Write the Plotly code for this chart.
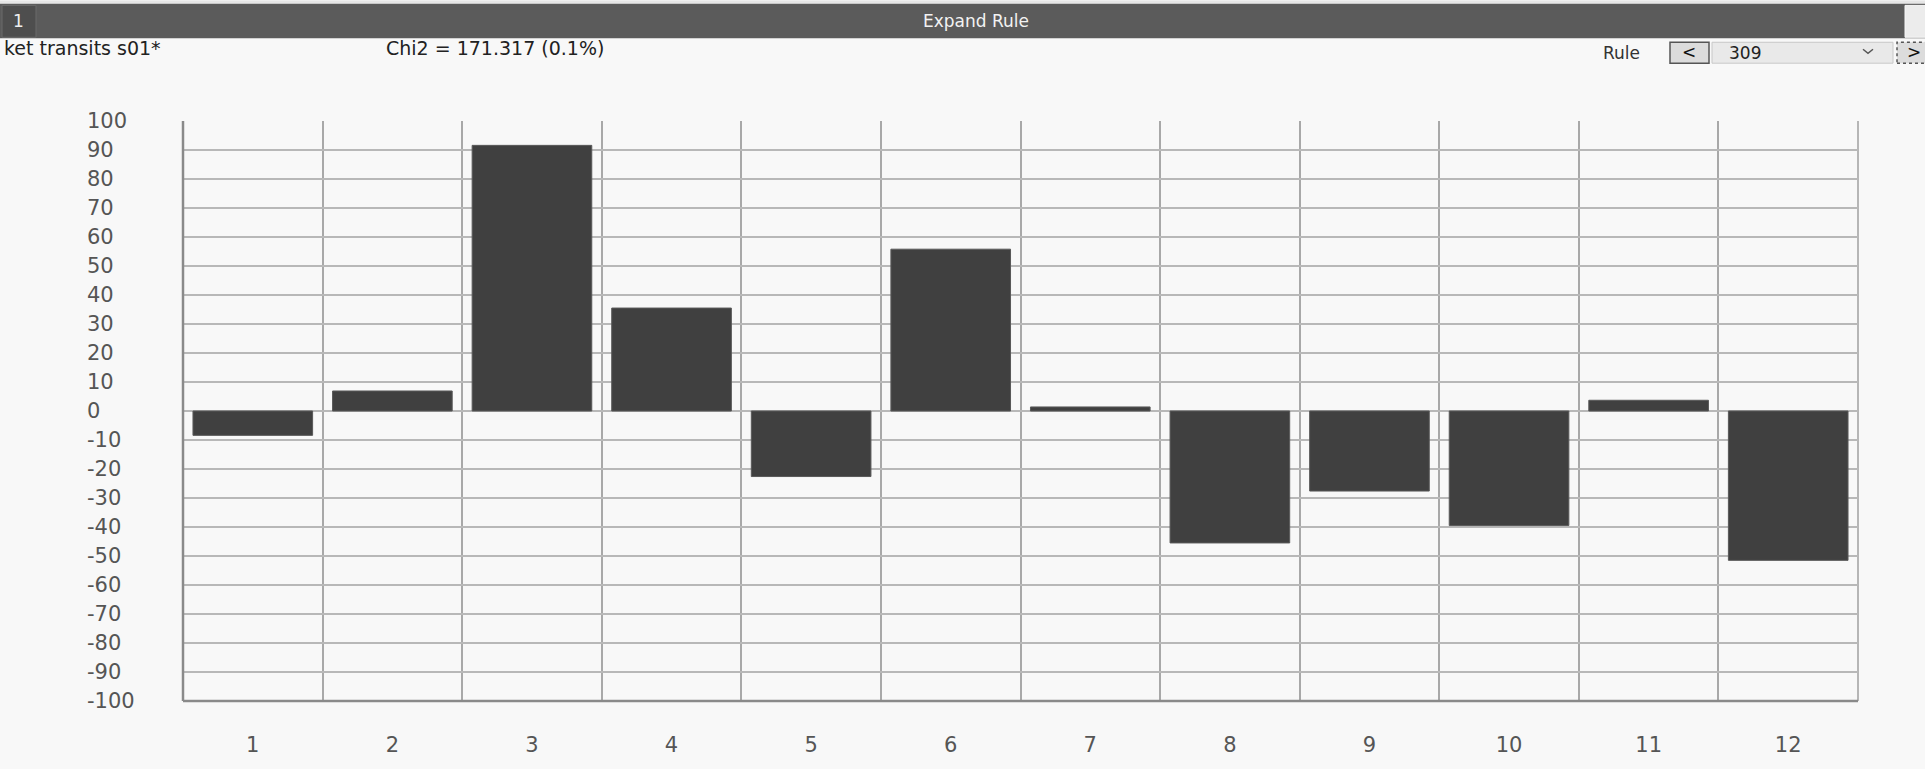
import plotly.graph_objects as go

# ---- data ----
categories = [1, 2, 3, 4, 5, 6, 7, 8, 9, 10, 11, 12]
values = [-8.4, 6.9, 91.6, 35.5, -22.6, 55.8, 1.4, -45.5, -27.6, -39.5, 3.7, -51.5]
y_ticks = list(range(100, -101, -10))
x_labels = [str(c) for c in categories]
header_title = "Expand Rule"
series_name = "ket transits s01*"
chi_text = "Chi2 = 171.317 (0.1%)"
rule_value = "309"

# ---- geometry (pixels) ----
W, H = 1925, 769
ML, MR, MT, MB = 183, 67, 121, 66
PW, PH = W - ML - MR, H - MT - MB


def px(x):
    return (x - ML) / PW


def py(y):
    return 1 - (y - MT) / PH


FONT = "DejaVu Sans"
BG = "#f8f8f8"

fig = go.Figure()
fig.add_trace(go.Bar(
    x=categories, y=values, width=0.857,
    marker=dict(color="#404040", line=dict(color="#595959", width=1)),
    showlegend=False, hoverinfo="x+y",
))

shapes = []
annotations = []

# header band
shapes.append(dict(type="rect", xref="paper", yref="paper", x0=px(0), x1=px(W), y0=py(38), y1=py(3),
                   fillcolor="#5b5b5b", line=dict(width=0), layer="above"))
shapes.append(dict(type="rect", xref="paper", yref="paper", x0=px(0), x1=px(W), y0=py(3), y1=py(0),
                   fillcolor="#e6e6e6", line=dict(width=0), layer="above"))
# "1" tab
shapes.append(dict(type="rect", xref="paper", yref="paper", x0=px(2), x1=px(36), y0=py(37), y1=py(5),
                   fillcolor="#4e4e4e", line=dict(color="#6a6a6a", width=1), layer="above"))
annotations.append(dict(text="1", xref="paper", yref="paper", x=px(18), y=py(21), showarrow=False,
                        font=dict(family=FONT, size=17, color="#eeeeee"), xanchor="center", yanchor="middle"))
annotations.append(dict(text=header_title, xref="paper", yref="paper", x=px(976), y=py(21), showarrow=False,
                        font=dict(family=FONT, size=17, color="#f2f2f2"), xanchor="center", yanchor="middle"))
# right edge button in header
shapes.append(dict(type="rect", xref="paper", yref="paper", x0=px(1905), x1=px(1930), y0=py(37), y1=py(5),
                   fillcolor="#ececec", line=dict(color="#f8f8f8", width=1), layer="above"))

# second row texts
annotations.append(dict(text=series_name, xref="paper", yref="paper", x=px(2), y=py(48), showarrow=False,
                        font=dict(family=FONT, size=19, color="#222222"), xanchor="left", yanchor="middle"))
annotations.append(dict(text=chi_text, xref="paper", yref="paper", x=px(384), y=py(48), showarrow=False,
                        font=dict(family=FONT, size=19, color="#222222"), xanchor="left", yanchor="middle"))
annotations.append(dict(text="Rule", xref="paper", yref="paper", x=px(1601), y=py(53), showarrow=False,
                        font=dict(family=FONT, size=17, color="#333333"), xanchor="left", yanchor="middle"))
# prev button
shapes.append(dict(type="rect", xref="paper", yref="paper", x0=px(1670), x1=px(1709), y0=py(63), y1=py(42),
                   fillcolor="#dcdcdc", line=dict(color="#555555", width=1.5), layer="above"))
annotations.append(dict(text="<", xref="paper", yref="paper", x=px(1689), y=py(52), showarrow=False,
                        font=dict(family=FONT, size=17, color="#111111"), xanchor="center", yanchor="middle"))
# dropdown
shapes.append(dict(type="rect", xref="paper", yref="paper", x0=px(1712), x1=px(1893), y0=py(63), y1=py(42),
                   fillcolor="#e9e9e9", line=dict(color="#c8c8c8", width=1), layer="above"))
annotations.append(dict(text=rule_value, xref="paper", yref="paper", x=px(1727), y=py(53), showarrow=False,
                        font=dict(family=FONT, size=17, color="#222222"), xanchor="left", yanchor="middle"))
shapes.append(dict(type="path", xref="paper", yref="paper",
                   path=f"M {px(1863)} {py(49)} L {px(1868)} {py(53)} L {px(1873)} {py(49)}",
                   line=dict(color="#555555", width=1.5), layer="above"))
# next button (clipped)
shapes.append(dict(type="rect", xref="paper", yref="paper", x0=px(1897), x1=px(1935), y0=py(63), y1=py(42),
                   fillcolor="#dcdcdc", line=dict(color="#555555", width=1.5, dash="dot"), layer="above"))
annotations.append(dict(text=">", xref="paper", yref="paper", x=px(1905), y=py(52), showarrow=False,
                        font=dict(family=FONT, size=17, color="#111111"), xanchor="left", yanchor="middle"))

# y tick labels (left aligned as in the reference)
for v in y_ticks:
    annotations.append(dict(text=str(v), xref="paper", yref="y", x=px(85), y=v, showarrow=False,
                            font=dict(family=FONT, size=21, color="#555555"), xanchor="left", yanchor="middle"))

# frame
shapes.append(dict(type="line", xref="paper", yref="paper", x0=0, x1=0, y0=0, y1=1,
                   line=dict(color="#8a8a8a", width=2.5), layer="above"))
shapes.append(dict(type="line", xref="paper", yref="paper", x0=0, x1=1, y0=0, y1=0,
                   line=dict(color="#8a8a8a", width=2.5), layer="above"))
shapes.append(dict(type="line", xref="paper", yref="paper", x0=1, x1=1, y0=0, y1=1,
                   line=dict(color="#a0a0a0", width=1.5), layer="below"))

fig.update_layout(
    width=W, height=H,
    margin=dict(l=ML, r=MR, t=MT, b=MB, pad=0),
    paper_bgcolor=BG, plot_bgcolor=BG,
    shapes=shapes, annotations=annotations,
    bargap=0.143,
    xaxis=dict(
        range=[0.5, 12.5], tickmode="array", tickvals=categories, ticktext=x_labels,
        showgrid=False, zeroline=False, ticks="", ticklabelstandoff=29,
        tickfont=dict(family=FONT, size=21, color="#555555"),
        minor=dict(tickmode="array", tickvals=[c + 0.5 for c in categories[:-1]],
                   showgrid=True, gridcolor="#a8a8a8", gridwidth=1.5, ticks=""),
        fixedrange=True,
    ),
    yaxis=dict(
        range=[-100, 100], tickmode="array", tickvals=y_ticks, showticklabels=False,
        showgrid=True, gridcolor="#b8b8b8", gridwidth=1.5, zeroline=False, ticks="",
        fixedrange=True,
    ),
)

fig.write_html(
    "out.html",
    config={"displayModeBar": False},
    post_script="document.body.style.margin='0';document.body.style.overflow='hidden';"
                "document.body.style.background='" + BG + "';",
)
